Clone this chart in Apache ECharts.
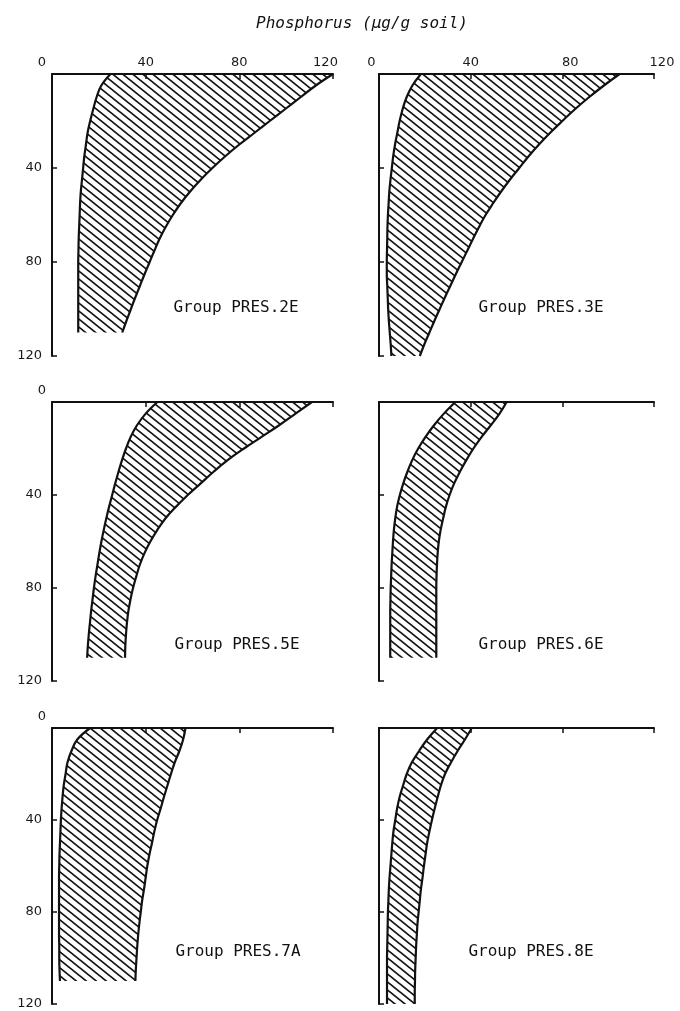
<!DOCTYPE html>
<html><head><meta charset="utf-8">
<script src="https://cdn.jsdelivr.net/npm/echarts@6/dist/echarts.min.js"></script>
<style>html,body{margin:0;padding:0;background:#ffffff}#c{width:680px;height:1011px}</style>
</head><body><div id="c"></div>
<script>
// ---- data ----
const depths = [0,5,10,15,20,25,30,35,40,45,50,55,60,65,70,75,80,85,90,95,100,105,110,115,120];
const phosTicks = [0,40,80,120];
const depthTicks = [0,40,80,120];
const titleText = 'Phosphorus (\u00b5g/g soil)';
const groupNames = ['Group PRES.2E','Group PRES.3E','Group PRES.5E','Group PRES.6E','Group PRES.7A','Group PRES.8E'];

const pres2eMin = [25,21,19,17.6,16.3,15.2,14.5,13.8,13.3,12.8,12.3,12,11.8,11.6,11.4,11.3,11.2,11.2,11.2,11.2,11.2,11.2,11.2];
const pres2eMax = [120,112.5,106,99.5,93,86.5,80,74,68.5,63.5,59,55,51.6,48.6,46,43.8,41.7,39.6,37.6,35.6,33.7,31.8,30];
const pres3eMin = [18.3,14.5,12,10.3,9,8,7,6.2,5.6,5,4.5,4.2,3.9,3.7,3.6,3.5,3.4,3.4,3.6,3.8,4,4.3,4.7,5.1,5.4];
const pres3eMax = [105,98,91.5,85.5,80,74.7,69.8,65.3,61.2,57.1,53.3,49.8,46.5,43.7,41.1,38.6,36.1,33.6,31.2,28.8,26.5,24.2,22,19.8,17.8];
const pres5eMin = [45,40,36.3,33.6,31.6,29.9,28.4,27,25.7,24.4,23.2,22.1,21.1,20.2,19.4,18.6,17.9,17.3,16.7,16.2,15.7,15.3,15];
const pres5eMax = [111,104,97,89.5,82,75,69,63.5,58,53,48.5,45,42,39.5,37.5,36,34.6,33.5,32.6,32,31.6,31.3,31.2];
const pres6eMin = [33.3,28.3,24,20.3,17.1,14.5,12.4,10.6,9.1,7.9,7.1,6.5,6.1,5.8,5.5,5.3,5.1,5,4.9,4.9,4.9,4.9,4.9];
const pres6eMax = [55.7,52.6,48.8,44.8,41.2,38.1,35.3,32.8,30.8,29.2,28,26.9,26.1,25.6,25.3,25.1,25,25,25,25,25,25,25];
const pres7aMin = [16.3,10.8,8.3,6.6,5.8,5,4.5,4.1,3.8,3.6,3.4,3.2,3.1,3,3,3,3,3,3,3.1,3.1,3.2,3.4];
const pres7aMax = [57,56,54.4,52.4,50.8,49.3,47.8,46.4,44.9,43.7,42.7,41.6,40.7,40,39.3,38.5,37.9,37.3,36.8,36.4,36.1,35.8,35.6];
const pres8eMin = [25.4,21,17.5,14.3,12.1,10.5,9,7.9,7.1,6.3,5.8,5.4,5,4.6,4.3,4.1,3.9,3.8,3.7,3.6,3.5,3.5,3.5,3.5,3.5];
const pres8eMax = [40.5,37.5,34.3,31.4,28.8,27,25.6,24.3,23.1,22,21,20.3,19.6,19,18.3,17.8,17.3,16.8,16.5,16.2,16,15.8,15.7,15.6,15.6];

const bandMins = [pres2eMin,pres3eMin,pres5eMin,pres6eMin,pres7aMin,pres8eMin];
const bandMaxs = [pres2eMax,pres3eMax,pres5eMax,pres6eMax,pres7aMax,pres8eMax];

// ---- layout (positions only) ----
const colLeft = [52, 379];
const colWidth = [281, 275];
const rowTop = [74, 402, 728];
const rowHeight = [282, 279, 276];
const groupLabelPos = [[236,308],[541,308],[237,645],[541,645],[238,952],[531,952]];

const INK = '#111111';
const FONT = 'DejaVu Sans';

// hatch pattern "\\\\"
const hatchCanvas = (function(){
  const W = 10, H = 8;
  const c = document.createElement('canvas'); c.width = W; c.height = H;
  const g = c.getContext('2d');
  g.strokeStyle = INK; g.lineWidth = 1.7;
  for (let s = -1; s <= 1; s++) {
    g.beginPath(); g.moveTo(s*W - W, -H); g.lineTo(s*W + 2*W, 2*H); g.stroke();
  }
  return c;
})();

const grids = [], xAxes = [], yAxes = [], series = [];
for (let i = 0; i < 6; i++) {
  const col = i % 2, row = Math.floor(i / 2);
  grids.push({left: colLeft[col], top: rowTop[row], width: colWidth[col], height: rowHeight[row], containLabel: false});

  let xFmt;
  if (row === 0 && col === 0) xFmt = v => v === 0 ? '{l|0}' : (v === 120 ? '{l2|120}' : String(v));
  else if (row === 0 && col === 1) xFmt = v => v === 0 ? '{l2|0}' : (v === 80 ? '{r|80}' : (v === 120 ? '{r|120}' : String(v)));
  else if (col === 0) xFmt = v => v === 0 ? '{l|0}' : '';
  else xFmt = v => '';

  xAxes.push({
    gridIndex: i, type: 'value', position: 'top', min: 0, max: 120, interval: 40,
    axisLine: {show: true, onZero: false, lineStyle: {color: INK, width: 2}},
    axisTick: {show: true, inside: true, length: 5, lineStyle: {color: INK, width: 1.5}},
    splitLine: {show: false},
    axisLabel: {
      show: true, margin: 5, color: '#1a1a1a', fontSize: 13, fontFamily: FONT,
      showMinLabel: true, showMaxLabel: true, formatter: xFmt,
      rich: {
        l: {fontSize: 13, fontFamily: FONT, color: '#1a1a1a', padding: [0, 20, 0, 0]},
        l2: {fontSize: 13, fontFamily: FONT, color: '#1a1a1a', padding: [0, 15, 0, 0]},
        r: {fontSize: 13, fontFamily: FONT, color: '#1a1a1a', padding: [0, 0, 0, 16]}
      }
    }
  });

  yAxes.push({
    gridIndex: i, type: 'value', inverse: true, min: 0, max: 120, interval: 40,
    axisLine: {show: true, onZero: false, lineStyle: {color: INK, width: 2}},
    axisTick: {show: true, inside: true, length: 5, lineStyle: {color: INK, width: 1.5}},
    splitLine: {show: false},
    axisLabel: {
      show: col === 0, margin: 10, color: '#1a1a1a', fontSize: 13, fontFamily: FONT,
      showMinLabel: true, showMaxLabel: true,
      formatter: v => v === 0 ? '' : String(v)
    }
  });

  const mins = bandMins[i], maxs = bandMaxs[i];
  series.push({
    type: 'custom', coordinateSystem: 'cartesian2d', xAxisIndex: i, yAxisIndex: i,
    data: [[0, 0]], silent: true, z: 2,
    renderItem: function (params, api) {
      const pts = [];
      for (let k = 0; k < mins.length; k++) pts.push(api.coord([mins[k], depths[k]]));
      for (let k = maxs.length - 1; k >= 0; k--) pts.push(api.coord([maxs[k], depths[k]]));
      return {type: 'polygon', shape: {points: pts},
        style: {fill: {type: 'pattern', image: hatchCanvas, repeat: 'repeat'}, stroke: null}};
    }
  });
  const edgeStyle = {color: INK, width: 2.2};
  series.push({
    type: 'line', xAxisIndex: i, yAxisIndex: i, symbol: 'none', smooth: 0.4, z: 3, silent: true,
    lineStyle: edgeStyle, data: mins.map((v, k) => [v, depths[k]])
  });
  series.push({
    type: 'line', xAxisIndex: i, yAxisIndex: i, symbol: 'none', smooth: 0.4, z: 3, silent: true,
    lineStyle: edgeStyle, data: maxs.map((v, k) => [v, depths[k]])
  });
}

const graphics = [{
  type: 'text', x: 362, y: 24,
  style: {text: titleText, font: 'italic 16px "DejaVu Sans Mono"', fill: '#111', textAlign: 'center', textVerticalAlign: 'middle'}
}];
groupNames.forEach((name, i) => {
  graphics.push({
    type: 'text', x: groupLabelPos[i][0], y: groupLabelPos[i][1],
    style: {text: name, font: '16px "DejaVu Sans Mono"', fill: '#111', textAlign: 'center', textVerticalAlign: 'middle'}
  });
});

const chart = echarts.init(document.getElementById('c'), null, {renderer: 'canvas'});
chart.setOption({
  backgroundColor: '#ffffff',
  animation: false,
  grid: grids, xAxis: xAxes, yAxis: yAxes, series: series,
  graphic: graphics
});
</script>
</body></html>
